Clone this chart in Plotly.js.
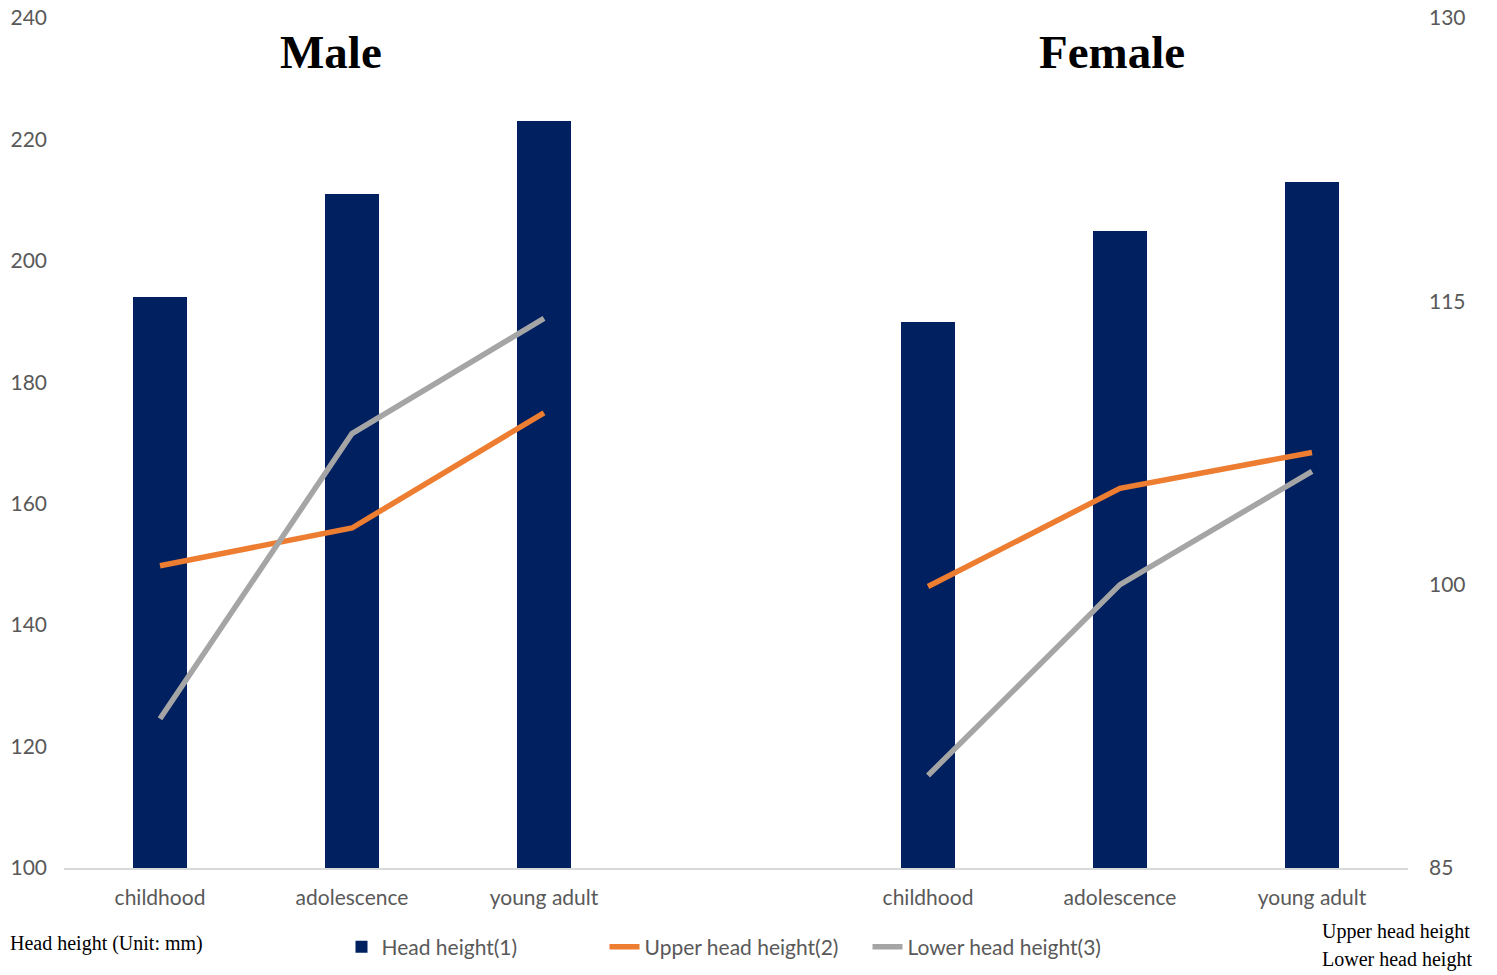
<!DOCTYPE html>
<html>
<head>
<meta charset="utf-8">
<script src="https://cdn.plot.ly/plotly-3.0.1.min.js"></script>
<style>
  html, body { margin: 0; padding: 0; background: #fff; }
  #chart { width: 1497px; height: 975px; }
</style>
</head>
<body>
<div id="chart"></div>
<script>
// ---- data ----
const stages = ['childhood', 'adolescence', 'young adult'];
const groups = ['Male', 'Female'];
const maleHead = [194, 211, 223];
const femaleHead = [190, 205, 213];
const maleUpper = [101, 103, 109.1];
const femaleUpper = [99.9, 105.1, 107];
const maleLower = [92.9, 108, 114.1];
const femaleLower = [89.9, 100, 106];
const leftTicks = [100, 120, 140, 160, 180, 200, 220, 240];
const rightTicks = [85, 100, 115, 130];
const seriesNames = ['Head height(1)', 'Upper head height(2)', 'Lower head height(3)'];

// ---- build positions: male slots, one blank slot, female slots ----
const n = stages.length;
const xs = [];
const tickText = [];
for (let i = 0; i < n; i++) { xs.push(i); tickText.push(stages[i]); }
xs.push(n); tickText.push('');
for (let i = 0; i < n; i++) { xs.push(n + 1 + i); tickText.push(stages[i]); }
const join = (a, b) => a.concat([null], b);

const navy = '#002060', orange = '#ED7D31', gray = '#A5A5A5';
const tickFont = { family: 'Lato, Carlito, sans-serif', size: 21, color: '#595959' };

const traces = [
  { type: 'bar', x: xs, y: join(maleHead, femaleHead), name: seriesNames[0],
    marker: { color: navy }, width: 0.28, yaxis: 'y', hoverinfo: 'y' },
  { type: 'scatter', mode: 'lines', x: xs, y: join(maleUpper, femaleUpper), name: seriesNames[1],
    line: { color: orange, width: 5.5 }, yaxis: 'y2', connectgaps: false },
  { type: 'scatter', mode: 'lines', x: xs, y: join(maleLower, femaleLower), name: seriesNames[2],
    line: { color: gray, width: 5.5 }, yaxis: 'y2', connectgaps: false }
];

const serif = 'Liberation Serif, Times New Roman, serif';
const layout = {
  width: 1497, height: 975,
  margin: { l: 64, r: 89, t: 18, b: 107, autoexpand: false },
  paper_bgcolor: '#fff', plot_bgcolor: '#fff',
  showlegend: true,
  legend: { orientation: 'h', x: 0.5, xanchor: 'center', y: -0.093, yanchor: 'middle',
            font: { family: 'Lato, Carlito, sans-serif', size: 21, color: '#595959' },
            entrywidth: 218, entrywidthmode: 'pixels', traceorder: 'normal' },
  xaxis: { range: [-0.5, 2 * n + 0.5], tickmode: 'array', tickvals: xs, ticktext: tickText,
           showgrid: false, zeroline: false, showline: true, linecolor: '#D9D9D9', linewidth: 1.5,
           ticks: '', tickfont: tickFont, ticklabelstandoff: 10 },
  yaxis: { range: [100, 240], tickvals: leftTicks, showgrid: false, zeroline: false,
           showline: false, ticks: '', tickfont: tickFont, ticklabelstandoff: 16 },
  yaxis2: { range: [85, 130], tickvals: rightTicks, overlaying: 'y', side: 'right',
            showgrid: false, zeroline: false, showline: false, ticks: '', tickfont: tickFont,
            ticklabelstandoff: 20 },
  bargap: 0,
  annotations: [
    { text: '<b>' + groups[0] + '</b>', xref: 'paper', yref: 'paper', x: 0.1987, y: 0.96,
      xanchor: 'center', yanchor: 'middle',
      showarrow: false, font: { family: serif, size: 47, color: '#000' } },
    { text: '<b>' + groups[1] + '</b>', xref: 'paper', yref: 'paper', x: 0.78, y: 0.96,
      xanchor: 'center', yanchor: 'middle',
      showarrow: false, font: { family: serif, size: 47, color: '#000' } },
    { text: 'Head height (Unit: mm)', xref: 'paper', yref: 'paper', x: -0.0417, xanchor: 'left',
      y: -0.089, yanchor: 'middle', showarrow: false, font: { family: serif, size: 20, color: '#000' } },
    { text: 'Upper head height', xref: 'paper', yref: 'paper', x: 1.0474, xanchor: 'right',
      y: -0.075, yanchor: 'middle', showarrow: false, font: { family: serif, size: 20, color: '#000' } },
    { text: 'Lower head height', xref: 'paper', yref: 'paper', x: 1.0489, xanchor: 'right',
      y: -0.108, yanchor: 'middle', showarrow: false, font: { family: serif, size: 20, color: '#000' } }
  ]
};

Plotly.newPlot('chart', traces, layout, { displayModeBar: false, staticPlot: true });
</script>
</body>
</html>
